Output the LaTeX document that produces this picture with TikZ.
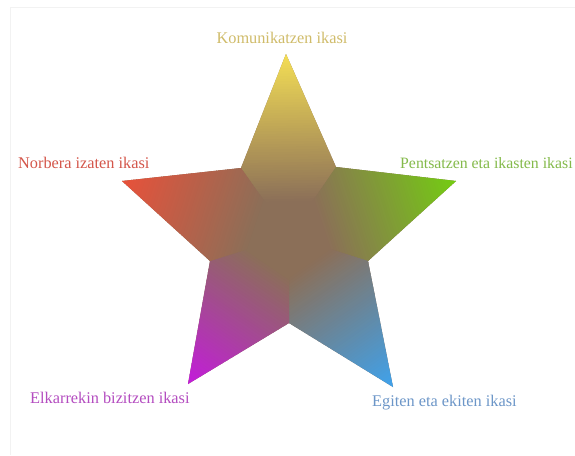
\documentclass[tikz,border=0pt]{standalone}
\usepackage{fontspec}
\setmainfont{Liberation Serif}
\definecolor{ctr}{HTML}{8B6F58}
\definecolor{tT}{HTML}{F4DE55}
\definecolor{tR}{HTML}{74CC12}
\definecolor{tB}{HTML}{3FA2EC}
\definecolor{tM}{HTML}{C31CDA}
\definecolor{tL}{HTML}{E8513A}
\definecolor{lT}{HTML}{D0BC6A}
\definecolor{lR}{HTML}{84BA4A}
\definecolor{lB}{HTML}{6C96C8}
\definecolor{lM}{HTML}{B44CC0}
\definecolor{lL}{HTML}{D4564A}
\tikzset{lab/.style={inner sep=0pt,font=\fontsize{16.3}{18}\selectfont}}
\begin{document}
\begin{tikzpicture}[x=1pt,y=-1pt]
\useasboundingbox (0,0) rectangle (575,455);
\fill[white] (0,0) rectangle (575,455);
\draw[black!5,line width=0.8pt] (10,455) -- (10,7) -- (575,7);
% star geometry (pixel coordinates)
\coordinate (C) at (289,236);
\coordinate (pT) at (286,54);
\coordinate (pR) at (456,181);
\coordinate (pB) at (393,387);
\coordinate (pM) at (188,384);
\coordinate (pL) at (122,181);
\coordinate (iUL) at (241,168);
\coordinate (iUR) at (336,167);
\coordinate (iRL) at (368,261);
\coordinate (iBo) at (289,323);
\coordinate (iLL) at (210,261);
\fill[ctr] (pT) -- (iUR) -- (pR) -- (iRL) -- (pB) -- (iBo) -- (pM) -- (iLL) -- (pL) -- (iUL) -- cycle;
\def\dz{35}
\foreach \ang/\len/\col/\ia/\tp/\ib in {90.9/182/tT/iUL/pT/iUR, 18.2/175.8/tR/iUR/pR/iRL, -55.4/183.4/tB/iRL/pB/iBo, -124.3/179.2/tM/iBo/pM/iLL, 161.8/175.8/tL/iLL/pL/iUL}{
  \begin{scope}
    \clip (C) -- (\ia) -- (\tp) -- (\ib) -- cycle;
    \begin{scope}[shift={(C)},rotate=\ang]
      \foreach \k in {0,...,71}{
        \pgfmathsetmacro\xa{-2+\k*(\len+6)/72}
        \pgfmathsetmacro\xb{\xa+(\len+6)/72+0.7}
        \pgfmathsetmacro\tt{max(0,min(100,100*((\xa+\xb)/2-\dz)/(\len-\dz)))}
        \fill[\col!\tt!ctr] (\xa,-130) rectangle (\xb,130);
      }
    \end{scope}
  \end{scope}
}
% labels
\node[lab,anchor=base,text=lT] (kom) at (282,43.3) {Komunikatzen ikasi};
\node[lab,anchor=base west,text=lL] (nor) at (18,168) {Norbera izaten ikasi};
\node[lab,anchor=base west,text=lR,font=\fontsize{15.8}{18}\selectfont] (pen) at (400,168) {Pentsatzen eta ikasten ikasi};
\node[lab,anchor=base west,text=lM] (elk) at (30,403.5) {Elkarrekin bizitzen ikasi};
\node[lab,anchor=base west,text=lB] (egi) at (372,406.5) {Egiten eta ekiten ikasi};
\end{tikzpicture}
\end{document}
